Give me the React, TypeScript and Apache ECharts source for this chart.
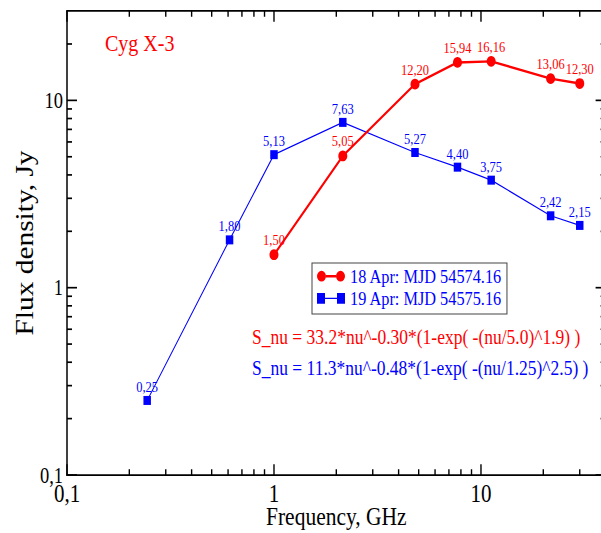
import React, { useEffect, useRef } from "react";
import * as echarts from "echarts";

// ---- data ----
const redFreq = [1.0, 2.15, 4.8, 7.7, 11.2, 21.7, 30];
const redFlux = [1.5, 5.05, 12.2, 15.94, 16.16, 13.06, 12.3];
const blueFreq = [0.244, 0.61, 1.0, 2.15, 4.8, 7.7, 11.2, 21.7, 30];
const blueFlux = [0.25, 1.8, 5.13, 7.63, 5.27, 4.4, 3.75, 2.42, 2.15];
const redName = "18 Apr: MJD 54574.16";
const blueName = "19 Apr: MJD 54575.16";
const majorTicks = [0.1, 1, 10];
const xMinorTicks = [0.2, 0.3, 0.4, 0.5, 0.6, 0.7, 0.8, 0.9, 2, 3, 4, 5, 6, 7, 8, 9, 20, 30];
const yMinorTicks = [0.2, 0.3, 0.4, 0.5, 0.6, 0.7, 0.8, 0.9, 2, 3, 4, 5, 6, 7, 8, 9, 20];
const xRange = [0.1, 40];
const yRange = [0.1, 30];
const titleText = "Cyg X-3";
const redFormula = "S_nu = 33.2*nu^-0.30*(1-exp( -(nu/5.0)^1.9) )";
const blueFormula = "S_nu = 11.3*nu^-0.48*(1-exp( -(nu/1.25)^2.5) )";
const xTitle = "Frequency, GHz";
const yTitle = "Flux density, Jy";

const S = 1.2; // vertical stretch of the whole figure
const W = 620;
const H = 533 / S;
const FONT = "Liberation Serif";
const RED = "#ff0000";
const BLUE = "#0000ff";

const isPow10 = (v: number) => Math.abs(Math.log10(v) - Math.round(Math.log10(v))) < 1e-6;
const fmtAxis = (v: number) =>
  isPow10(v) ? String(Number(Number(v).toPrecision(6))).replace(".", ",") : "";
const fmtVal = (p: any) => Number(p.value[1]).toFixed(2).replace(".", ",");

const redIcon =
  "path://M0,4.5A4.5,4.5 0 1,0 9,4.5A4.5,4.5 0 1,0 0,4.5ZM19,4.5A4.5,4.5 0 1,0 28,4.5A4.5,4.5 0 1,0 19,4.5ZM9,3.5L19,3.5L19,5.5L9,5.5Z";
const blueIcon = "path://M0,0L8,0L8,9L0,9ZM20,0L28,0L28,9L20,9ZM8,4L20,4L20,5L8,5Z";

function makeAxis(kind: "x" | "y", position: string, labels: boolean) {
  const range = kind === "x" ? xRange : yRange;
  return {
    type: "log",
    logBase: 10,
    gridIndex: 0,
    position,
    min: range[0],
    max: range[1],
    splitLine: { show: false },
    minorTick: { show: false },
    axisLine: { show: true, onZero: false, lineStyle: { color: "#000", width: 1.5 } },
    axisTick: { show: false },
    axisLabel: labels
      ? {
          show: true,
          formatter: fmtAxis,
          fontFamily: FONT,
          fontSize: kind === "x" ? 21 : 18.5,
          lineHeight: kind === "x" ? 16 : 16,
          color: "#000",
          margin: kind === "x" ? 7 : 4,
          showMinLabel: true,
          showMaxLabel: true,
        }
      : { show: false },
  } as any;
}

const isMajor = (v: number) => majorTicks.indexOf(v) >= 0;
const tickStyle = { stroke: "#000", lineWidth: 1.4, fill: null };

function xTickItem(params: any, api: any) {
  const v = api.value(0);
  const len = isMajor(v) ? 9 : 4.8;
  const pb = api.coord([v, yRange[0]]);
  const pt = api.coord([v, yRange[1]]);
  return {
    type: "group",
    children: [
      { type: "line", shape: { x1: pb[0], y1: pb[1], x2: pb[0], y2: pb[1] - len }, style: tickStyle },
      { type: "line", shape: { x1: pt[0], y1: pt[1], x2: pt[0], y2: pt[1] + len }, style: tickStyle },
    ],
  };
}

function yTickItem(params: any, api: any) {
  const v = api.value(1);
  const len = isMajor(v) ? 10 : 5;
  const pl = api.coord([xRange[0], v]);
  const pr = api.coord([xRange[1], v]);
  return {
    type: "group",
    children: [
      { type: "line", shape: { x1: pl[0], y1: pl[1], x2: pl[0] + len, y2: pl[1] }, style: tickStyle },
      { type: "line", shape: { x1: pr[0], y1: pr[1], x2: pr[0] - len, y2: pr[1] }, style: tickStyle },
    ],
  };
}

export default function App() {
  const ref = useRef<HTMLDivElement>(null);
  useEffect(() => {
    if (!ref.current) return;
    const chart = echarts.init(ref.current, null, { renderer: "svg", width: W, height: H });
    const xAxes = [makeAxis("x", "bottom", true), makeAxis("x", "top", false)];
    xAxes[0].name = xTitle;
    xAxes[0].nameLocation = "middle";
    xAxes[0].nameGap = 25.5;
    xAxes[0].nameMoveOverlap = false;
    xAxes[0].nameTextStyle = { fontFamily: FONT, fontSize: 21.5, lineHeight: 18, color: "#000" };
    const yAxes = [makeAxis("y", "left", true), makeAxis("y", "right", false)];
    yAxes[0].name = yTitle;
    yAxes[0].nameLocation = "middle";
    yAxes[0].nameGap = 30;
    yAxes[0].nameMoveOverlap = false;
    yAxes[0].nameTextStyle = { fontFamily: FONT, fontSize: 24.5, color: "#000" };

    const option: any = {
      animation: false,
      backgroundColor: "#fff",
      grid: {
        left: 67,
        top: 11 / S,
        width: 538.6,
        height: 464 / S,
        containLabel: false,
        outerBoundsMode: "none",
      },
      xAxis: xAxes,
      yAxis: yAxes,
      legend: {
        orient: "vertical",
        left: 312,
        top: 263 / S,
        itemWidth: 28,
        itemHeight: 9,
        itemGap: 2.5,
        padding: [3, 5, 5, 5],
        borderColor: "#444",
        borderWidth: 1,
        backgroundColor: "#fff",
        textStyle: { fontFamily: FONT, fontSize: 16.3, color: BLUE },
        data: [
          { name: redName, icon: redIcon },
          { name: blueName, icon: blueIcon },
        ],
      },
      graphic: [
        {
          type: "text",
          x: 105,
          y: 43 / S,
          style: { text: titleText, fill: RED, font: `20px "${FONT}"`, verticalAlign: "middle" },
        },
        {
          type: "text",
          x: 252,
          y: 336.7 / S,
          style: { text: redFormula, fill: RED, font: `17.5px "${FONT}"`, verticalAlign: "middle" },
        },
        {
          type: "text",
          x: 252,
          y: 368 / S,
          style: { text: blueFormula, fill: BLUE, font: `17.5px "${FONT}"`, verticalAlign: "middle" },
        },
      ],
      series: [
        {
          type: "custom",
          name: "xticks",
          coordinateSystem: "cartesian2d",
          xAxisIndex: 0,
          yAxisIndex: 0,
          silent: true,
          clip: false,
          data: [...majorTicks, ...xMinorTicks].map((v) => [v, yRange[0]]),
          renderItem: xTickItem,
          z: 1,
        },
        {
          type: "custom",
          name: "yticks",
          coordinateSystem: "cartesian2d",
          xAxisIndex: 0,
          yAxisIndex: 0,
          silent: true,
          clip: false,
          data: [...majorTicks, ...yMinorTicks].map((v) => [xRange[0], v]),
          renderItem: yTickItem,
          z: 1,
        },
        {
          name: redName,
          type: "line",
          xAxisIndex: 0,
          yAxisIndex: 0,
          data: redFreq.map((f, i) => [f, redFlux[i]]),
          symbol: "circle",
          symbolSize: 9,
          itemStyle: { color: RED },
          lineStyle: { color: RED, width: 2 },
          label: {
            show: true,
            position: "top",
            distance: 1,
            formatter: fmtVal,
            fontFamily: FONT,
            fontSize: 12.5,
            color: RED,
          },
          z: 3,
        },
        {
          name: blueName,
          type: "line",
          xAxisIndex: 0,
          yAxisIndex: 0,
          data: blueFreq.map((f, i) => [f, blueFlux[i]]),
          symbol: "rect",
          symbolSize: 7.5,
          itemStyle: { color: BLUE },
          lineStyle: { color: BLUE, width: 1 },
          label: {
            show: true,
            position: "top",
            distance: 1,
            formatter: fmtVal,
            fontFamily: FONT,
            fontSize: 12.5,
            color: BLUE,
          },
          z: 2,
        },
      ],
    };
    chart.setOption(option);
    return () => chart.dispose();
  }, []);
  return (
    <div
      style={{
        position: "fixed",
        left: 0,
        top: 0,
        width: 601,
        height: 533,
        overflow: "hidden",
        background: "#fff",
      }}
    >
      <div
        ref={ref}
        style={{
          width: W,
          height: H,
          transform: `scaleY(${S})`,
          transformOrigin: "0 0",
        }}
      />
    </div>
  );
}
